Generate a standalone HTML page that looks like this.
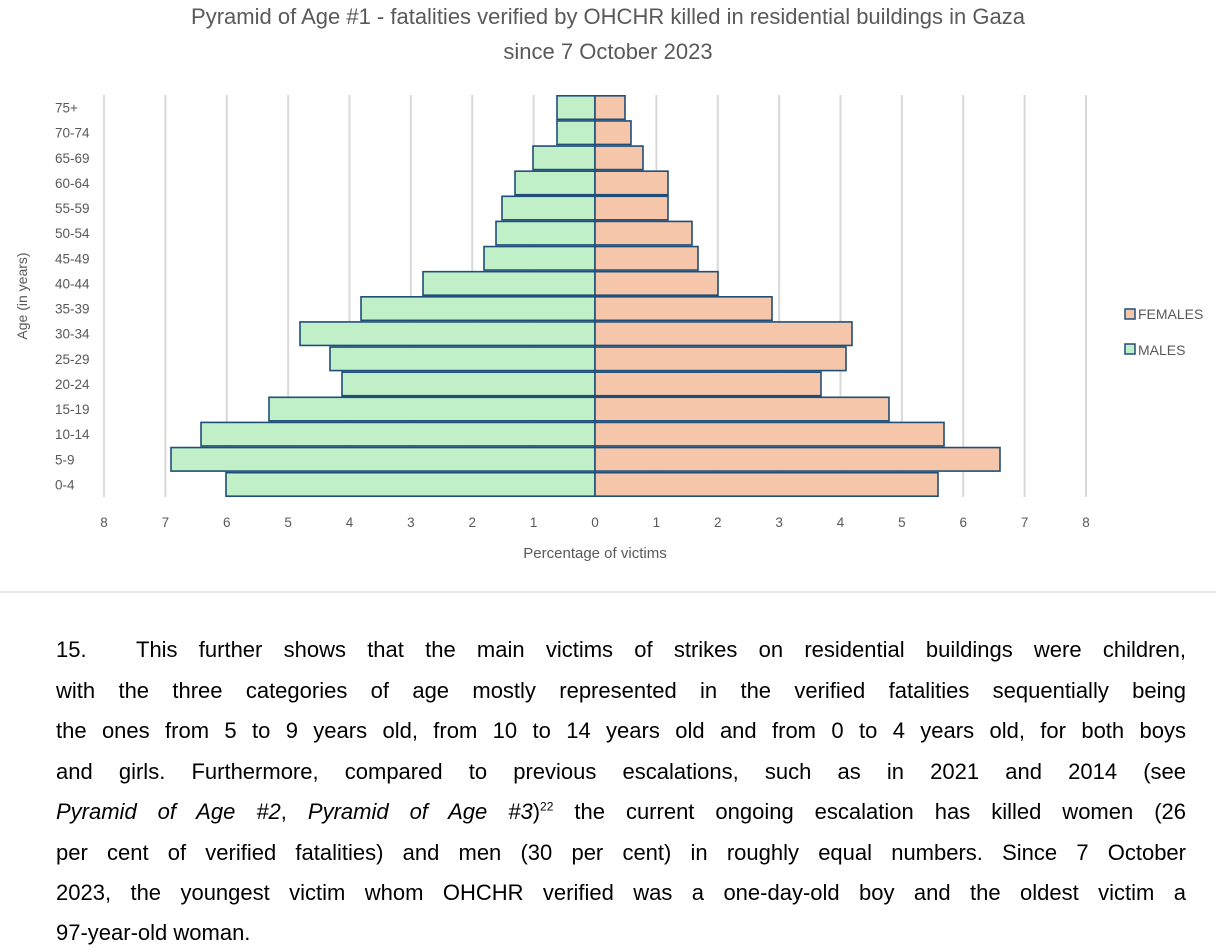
<!DOCTYPE html>
<html><head><meta charset="utf-8"><style>
body{margin:0;width:1216px;height:952px;background:#fff;overflow:hidden;position:relative;font-family:"Liberation Sans",sans-serif}
.p{position:absolute;left:56px;width:1130px;font-size:22px;color:#000;text-align:justify;text-align-last:justify;white-space:nowrap;line-height:24px}
.p.l{text-align-last:left}
</style></head><body>
<svg width="1216" height="600" style="position:absolute;left:0;top:0" font-family="Liberation Sans, sans-serif">
<text x="608" y="24" text-anchor="middle" font-size="22" fill="#595959">Pyramid of Age #1 - fatalities verified by OHCHR killed in residential buildings in Gaza</text>
<text x="608" y="59" text-anchor="middle" font-size="22" fill="#595959">since 7 October 2023</text>
<g stroke="#d9d9d9" stroke-width="2" id="grid"></g>
<g id="bars" stroke="#1f4e79" stroke-width="1.6"></g>
<g id="lab" font-size="13.5" fill="#595959"></g>
<text transform="translate(27,296) rotate(-90)" text-anchor="middle" font-size="14" fill="#595959">Age (in years)</text>
<text x="595" y="558" text-anchor="middle" font-size="15" fill="#595959">Percentage of victims</text>
<rect x="1125" y="309" width="10" height="10" fill="#f5c6aa" stroke="#1f4e79" stroke-width="1.5"/>
<text x="1138" y="319" font-size="14" fill="#595959">FEMALES</text>
<rect x="1125" y="344" width="10" height="10" fill="#c1f0c8" stroke="#1f4e79" stroke-width="1.5"/>
<text x="1138" y="355" font-size="14" fill="#595959">MALES</text>
<line x1="0" y1="592" x2="1216" y2="592" stroke="#d0d0d0" stroke-width="1"/>
</svg>
<div class="p" style="top:638px"><span style="display:inline-block;width:80px;text-align-last:left">15.</span>This further shows that the main victims of strikes on residential buildings were children,</div>
<div class="p" style="top:679px">with the three categories of age mostly represented in the verified fatalities sequentially being</div>
<div class="p" style="top:719px">the ones from 5 to 9 years old, from 10 to 14 years old and from 0 to 4 years old, for both boys</div>
<div class="p" style="top:760px">and girls. Furthermore, compared to previous escalations, such as in 2021 and 2014 (see</div>
<div class="p" style="top:800px"><i>Pyramid of Age #2</i>, <i>Pyramid of Age #3</i>)<sup style="font-size:12px;line-height:0">22</sup> the current ongoing escalation has killed women (26</div>
<div class="p" style="top:841px">per cent of verified fatalities) and men (30 per cent) in roughly equal numbers. Since 7 October</div>
<div class="p" style="top:881px">2023, the youngest victim whom OHCHR verified was a one-day-old boy and the oldest victim a</div>
<div class="p l" style="top:921px">97-year-old woman.</div>
<script>
var ns="http://www.w3.org/2000/svg";
function el(p,t,a,txt){var e=document.createElementNS(ns,t);for(var k in a)e.setAttribute(k,a[k]);if(txt)e.textContent=txt;document.getElementById(p).appendChild(e);}
var u=61.375,z=595;
for(var i=-8;i<=8;i++){var x=z+i*u;el("grid","line",{x1:x,y1:95,x2:x,y2:497});
el("lab","text",{x:x,y:527,"text-anchor":"middle"},String(Math.abs(i)));}
var ages=["75+","70-74","65-69","60-64","55-59","50-54","45-49","40-44","35-39","30-34","25-29","20-24","15-19","10-14","5-9","0-4"];
var mL=[557,557,533,515,502,496,484,423,361,300,330,342,269,201,171,226];
var fR=[625,631,643,668,668,692,698,718,772,852,846,821,889,944,1000,938];
var h=402/16;
for(var j=0;j<16;j++){var y=95+j*h;
el("bars","rect",{x:mL[j],y:y+0.8,width:z-mL[j],height:h-1.6,fill:"#c1f0c8"});
el("bars","rect",{x:z,y:y+0.8,width:fR[j]-z,height:h-1.6,fill:"#f5c6aa"});
el("lab","text",{x:55,y:y+h/2+5},ages[j]);}
</script>
</body></html>
